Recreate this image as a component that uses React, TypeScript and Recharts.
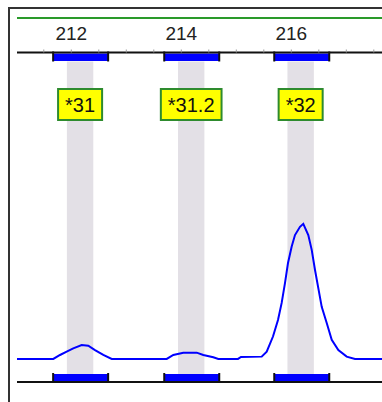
import React from 'react';
import { ComposedChart, Line, XAxis, YAxis, ReferenceArea, ReferenceLine } from 'recharts';

// allele calls and their bins (size in bp)
const alleleNames = ['*31', '*31.2', '*32'];
const alleleSizes = [212.16, 214.18, 216.17];
const binStart = [211.67, 213.69, 215.69];
const binEnd = [212.67, 214.69, 216.69];

// top size axis
const sizeTicks = [211.5, 212, 212.5, 213, 213.5, 214, 214.5, 215, 215.5, 216, 216.5, 217, 217.5];
const labelledTicks = [212, 214, 216];

// electropherogram trace
const traceSize = [
  211.013, 211.673, 211.795, 211.916, 212.036, 212.189, 212.309, 212.431, 212.582, 212.735,
  213.735, 213.855, 214.036, 214.28, 214.4, 214.582, 214.673, 215.031, 215.085, 215.462,
  215.553, 215.667, 215.758, 215.825, 215.885, 215.94, 216.007, 216.067, 216.158, 216.218,
  216.309, 216.371, 216.431, 216.491, 216.553, 216.644, 216.735, 216.855, 217.007, 217.158,
  217.649,
];
const traceRfu = [
  0, 0, 12, 22, 32, 42, 40, 27, 12, 0,
  0, 12, 19, 19, 12, 5, 0, 0, 6, 7,
  22, 68, 118, 170, 230, 291, 341, 376, 401, 410,
  376, 331, 270, 215, 158, 109, 58, 27, 7, 0,
  0,
];

const W = 382;
const H = 402;
const Y_MIN = -70;
const Y_MAX = 930;
const BAND_HALF = 0.24;
const FONT = '"Liberation Sans", Arial, sans-serif';

const charW: Record<string, number> = { '*': 0.389, '.': 0.278 };
const textWidth = (s: string, size: number) =>
  s.split('').reduce((w, c) => w + (charW[c] ?? 0.556) * size, 0);

const BinShape = (p: any) => {
  const { x, y, width, height } = p;
  const bottom = y + height;
  return (
    <g>
      <rect x={x} y={y + 1} width={width} height={7.5} fill="#0000ff" />
      <rect x={x} y={bottom - 8} width={width} height={7} fill="#0000ff" />
      <line x1={x} x2={x} y1={y - 1} y2={y + 9} stroke="#111" strokeWidth={2} />
      <line x1={x + width} x2={x + width} y1={y - 1} y2={y + 9} stroke="#111" strokeWidth={2} />
      <line x1={x} x2={x} y1={bottom - 9} y2={bottom} stroke="#111" strokeWidth={2} />
      <line x1={x + width} x2={x + width} y1={bottom - 9} y2={bottom} stroke="#111" strokeWidth={2} />
    </g>
  );
};

const BandShape = (p: any, name: string) => {
  const { x, y, width, height } = p;
  const cx = x + width / 2;
  const fs = 20;
  const bw = textWidth(name, fs) + 14;
  const top = y + 36.5;
  return (
    <g>
      <rect x={x} y={y + 9} width={width} height={height - 17} fill="#e3e0e6" />
      <rect x={cx - bw / 2} y={top} width={bw} height={31} fill="#ffff00" stroke="#2e8b2e" strokeWidth={2} />
      <text x={cx} y={top + 22.5} textAnchor="middle" fontSize={fs} fontFamily={FONT} fill="#111">
        {name}
      </text>
    </g>
  );
};

export default function App() {
  const data = traceSize.map((s, i) => ({ size: s, rfu: traceRfu[i] }));

  return (
    <div style={{ position: 'absolute', left: 0, top: 0, width: W, height: H, background: '#fff', overflow: 'hidden' }}>
      {/* panel frame */}
      <div
        style={{
          position: 'absolute',
          left: 8,
          top: 7,
          width: W,
          height: H,
          borderTop: '2px solid #333',
          borderLeft: '2px solid #333',
        }}
      />
      <div style={{ position: 'absolute', left: 17, top: 17, width: W - 17, height: 2, background: '#2a9a2a' }} />
      <div style={{ position: 'absolute', left: 0, top: 0 }}>
        <ComposedChart width={W} height={H} data={data} margin={{ top: 0, right: 0, bottom: 20, left: 17 }}>
          <XAxis
            dataKey="size"
            type="number"
            orientation="top"
            domain={[211.013, 217.649]}
            allowDataOverflow
            ticks={sizeTicks}
            interval={0}
            height={52.5}
            axisLine={{ stroke: '#111', strokeWidth: 2 }}
            tickLine={{ stroke: '#999' }}
            tickSize={3}
            tickMargin={10}
            tick={{ fill: '#222', fontSize: 19, fontFamily: FONT }}
            tickFormatter={(v: number) => (labelledTicks.includes(v) ? String(v) : '')}
          />
          <YAxis hide domain={[Y_MIN, Y_MAX]} allowDataOverflow />
          {alleleSizes.map((s, i) => (
            <ReferenceArea
              key={'band' + i}
              x1={s - BAND_HALF}
              x2={s + BAND_HALF}
              shape={(p: any) => BandShape(p, alleleNames[i])}
            />
          ))}
          {binStart.map((b, i) => (
            <ReferenceArea key={'bin' + i} x1={b} x2={binEnd[i]} shape={BinShape} />
          ))}
          <ReferenceLine y={Y_MIN} stroke="#111" strokeWidth={2} />
          <Line
            type="linear"
            dataKey="rfu"
            stroke="#0000ff"
            strokeWidth={2}
            dot={false}
            isAnimationActive={false}
          />
        </ComposedChart>
      </div>
    </div>
  );
}
